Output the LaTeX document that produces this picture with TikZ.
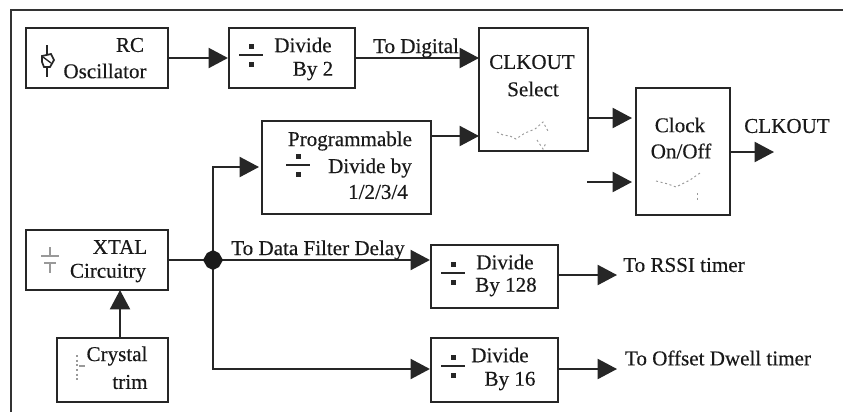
\documentclass[tikz,border=0pt]{standalone}
\usepackage{fontspec}
\setmainfont{Liberation Serif}
\newfontfamily\lblfont[FakeBold=0.35]{Liberation Serif}
\usetikzlibrary{arrows.meta,fit}
\tikzset{
  x=0.75pt,y=-0.75pt,
  blk/.style={draw=black!85,line width=1.6pt,inner sep=0pt,rectangle},
  lbl/.style={inner sep=0pt,font=\lblfont\fontsize{15.8}{18}\selectfont,text=black!90},
  wire/.style={draw=black!85,line width=1.5pt},
  flow/.style={wire,-{Triangle[length=14.5pt,width=15pt]}},
  divline/.style={draw=black!85,line width=1.2pt},
  divdot/.style={fill=black!85,draw=none},
  faint/.style={draw=black!40,line width=0.7pt,dash pattern=on 1.5pt off 2pt},
  icon/.style={draw=black!85,line width=1.3pt},
  iconfaint/.style={draw=black!40,line width=1pt}
}
\begin{document}
\begin{tikzpicture}
\useasboundingbox (0,0) rectangle (843,412);
\fill[white] (0,0) rectangle (843,412);
% outer frame
\draw[black!80,line width=1.5pt] (11,412) -- (11,10) -- (843,10);
% blocks
\node[blk,fit={(26,28)(168,88)}] (rc) {};
\node[blk,fit={(229,28)(355,88)}] (div2) {};
\node[blk,fit={(479,28)(588,151)}] (sel) {};
\node[blk,fit={(636,88)(730,215)}] (onoff) {};
\node[blk,fit={(262,121)(431,214)}] (prog) {};
\node[blk,fit={(26,230)(168,290)}] (xtal) {};
\node[blk,fit={(57,338)(168,402)}] (trim) {};
\node[blk,fit={(431,245)(558,308)}] (div128) {};
\node[blk,fit={(431,338)(558,402)}] (div16) {};
% free ends and junction
\coordinate (jn) at (213,260);
\coordinate (selin) at (479,136);
\coordinate (selout) at (632,118);
\coordinate (onin0) at (587,182);
\coordinate (onin) at (632,182);
\coordinate (clkend) at (774,152);
\coordinate (rssi) at (617,275);
\coordinate (dwell) at (617,369);
\coordinate (progin) at (259,167);
\coordinate (dig) at (479,58);
\coordinate (up) at (120,290);
% connectors
\draw[flow] (rc.east) -- (div2.west);
\draw[flow] (div2.east) -- (dig);
\draw[flow] (prog.east |- selin) -- (selin);
\draw[flow] (sel.east |- selout) -- (selout);
\draw[flow] (onin0) -- (onin);
\draw[flow] (onoff.east |- clkend) -- (clkend);
\draw[wire] (xtal.east |- jn) -- (jn);
\draw[flow] (jn) -- (div128.west |- jn);
\draw[flow] (jn) -- (jn |- progin) -- (progin);
\draw[flow] (jn) -- (jn |- dwell) -- (div16.west |- dwell);
\draw[flow] (trim.north -| up) -- (up);
\draw[flow] (div128.east |- rssi) -- (rssi);
\draw[flow] (div16.east |- dwell) -- (dwell);
\fill[black!90] (213,250) -- (219,253) -- (223,260) -- (219,267) -- (213,270) -- (207,267) -- (203,260) -- (207,253) -- cycle;
% labels
\node[lbl] (t1) at (130,45) {RC};
\node[lbl] (t2) at (105,71) {Oscillator};
\node[lbl] (t3) at (303,45) {Divide};
\node[lbl] (t4) at (313,71) {By 2};
\node[lbl] (t5) at (416,48) {To Digital};
\node[lbl] (t6) at (532,62) {CLKOUT};
\node[lbl] (t7) at (533,89) {Select};
\node[lbl] (t8) at (350,141) {Programmable};
\node[lbl] (t9) at (370,168) {Divide by};
\node[lbl] (t10) at (378,192) {1/2/3/4};
\node[lbl] (t11) at (680,125) {Clock};
\node[lbl] (t12) at (681,151) {On/Off};
\node[lbl] (t13) at (787,126) {CLKOUT};
\node[lbl] (t14) at (120,247) {XTAL};
\node[lbl] (t15) at (108,273) {Circuitry};
\node[lbl] (t16) at (117,356) {Crystal};
\node[lbl] (t17) at (130,382) {trim};
\node[lbl] (t18) at (318,250) {To Data Filter Delay};
\node[lbl] (t19) at (505,262) {Divide};
\node[lbl] (t20) at (506,287) {By 128};
\node[lbl] (t21) at (684,265) {To RSSI timer};
\node[lbl] (t22) at (500,355) {Divide};
\node[lbl] (t23) at (510,381) {By 16};
\node[lbl] (t24) at (718,358) {To Offset Dwell timer};
% divide symbols
\foreach \cx/\cy in {251/55,298/165,453/273,453/366}{
  \draw[divline] (\cx-12,\cy) -- (\cx+12,\cy);
  \fill[divdot] (\cx-2.5,\cy-11.5) rectangle (\cx+2.5,\cy-6.5);
  \fill[divdot] (\cx-2.5,\cy+6.5) rectangle (\cx+2.5,\cy+11.5);
}
% oscillator symbol
\draw[icon] (47,45) -- (47,54);
\draw[icon] (47,67) -- (47,77);
\draw[icon] (42,56) -- (51,54) -- (54,60) -- (50,67) -- (44,67) -- (42,62) -- cycle;
\draw[icon,line width=1pt] (43,57) -- (51,63);
% xtal symbol
\draw[iconfaint] (50,247) -- (50,255);
\draw[iconfaint] (41,256) -- (59,256);
\draw[iconfaint] (44,263) -- (56,263);
\draw[iconfaint] (50,263) -- (50,273);
% trim symbol
\draw[faint,line width=1pt] (77,355) -- (77,382);
\draw[iconfaint] (79,366) -- (85,366);
% faint waves
\draw[faint] (497,132) -- (503,135) -- (510,136) -- (516,139) -- (525,133) -- (535,129) -- (543,122) -- (548,131);
\draw[faint] (537,140) -- (543,149) -- (546,143);
\draw[faint] (656,181) -- (668,184) -- (676,187) -- (690,180) -- (700,173);
\draw[faint] (697,193) -- (697,202);
\end{tikzpicture}
\end{document}
